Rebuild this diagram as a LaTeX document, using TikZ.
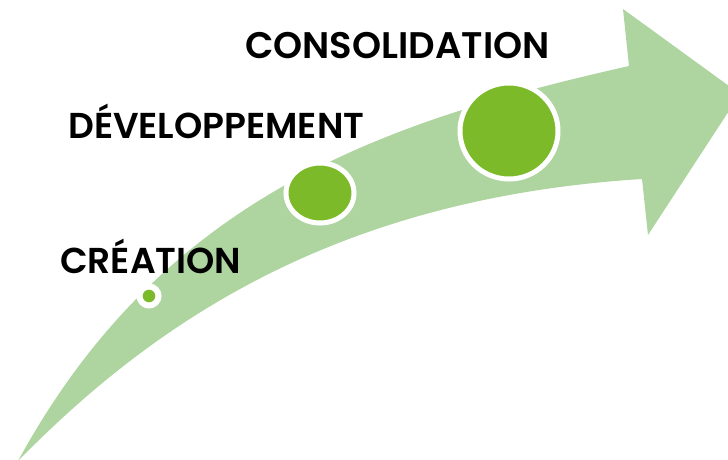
\documentclass[tikz,border=0pt]{standalone}
\usepackage{fontspec}
\newfontfamily\labfont{Poppins SemiBold}
\usetikzlibrary{shapes.geometric}
\definecolor{bandgreen}{RGB}{174,213,160}
\definecolor{dotgreen}{RGB}{124,186,42}
\tikzset{
  dot/.style={ellipse, fill=dotgreen, draw=white, inner sep=0pt},
  lab/.style={anchor=base west, inner sep=0pt, font=\labfont\fontsize{36}{36}\selectfont, text=black},
}
\begin{document}
\begin{tikzpicture}[x=1pt,y=-1pt]
\useasboundingbox (0,0) rectangle (728,460);
\clip (0,0) rectangle (728,460);
\fill[bandgreen] (18,461) .. controls (163,195) and (385,121) .. (629,66)
  -- (623,9) -- (740,94) -- (648,235) -- (642,179)
  .. controls (342,198) and (159,317) .. (18,461) -- cycle;
\node[dot, minimum width=19pt, minimum height=19pt, line width=6pt] (cre) at (149,296) {};
\node[dot, minimum width=68pt, minimum height=60pt, line width=5pt] (dev) at (320,193) {};
\node[dot, minimum width=98pt, minimum height=96pt, line width=5pt] (con) at (509,131) {};
\node[lab, font=\labfont\fontsize{37}{37}\selectfont] (tcon) at (245,59) {CONSOLIDATION};
\node[lab] (tdev) at (68,138) {DÉVELOPPEMENT};
\node[lab] (tcre) at (60,273) {CRÉATION};
\end{tikzpicture}
\end{document}
